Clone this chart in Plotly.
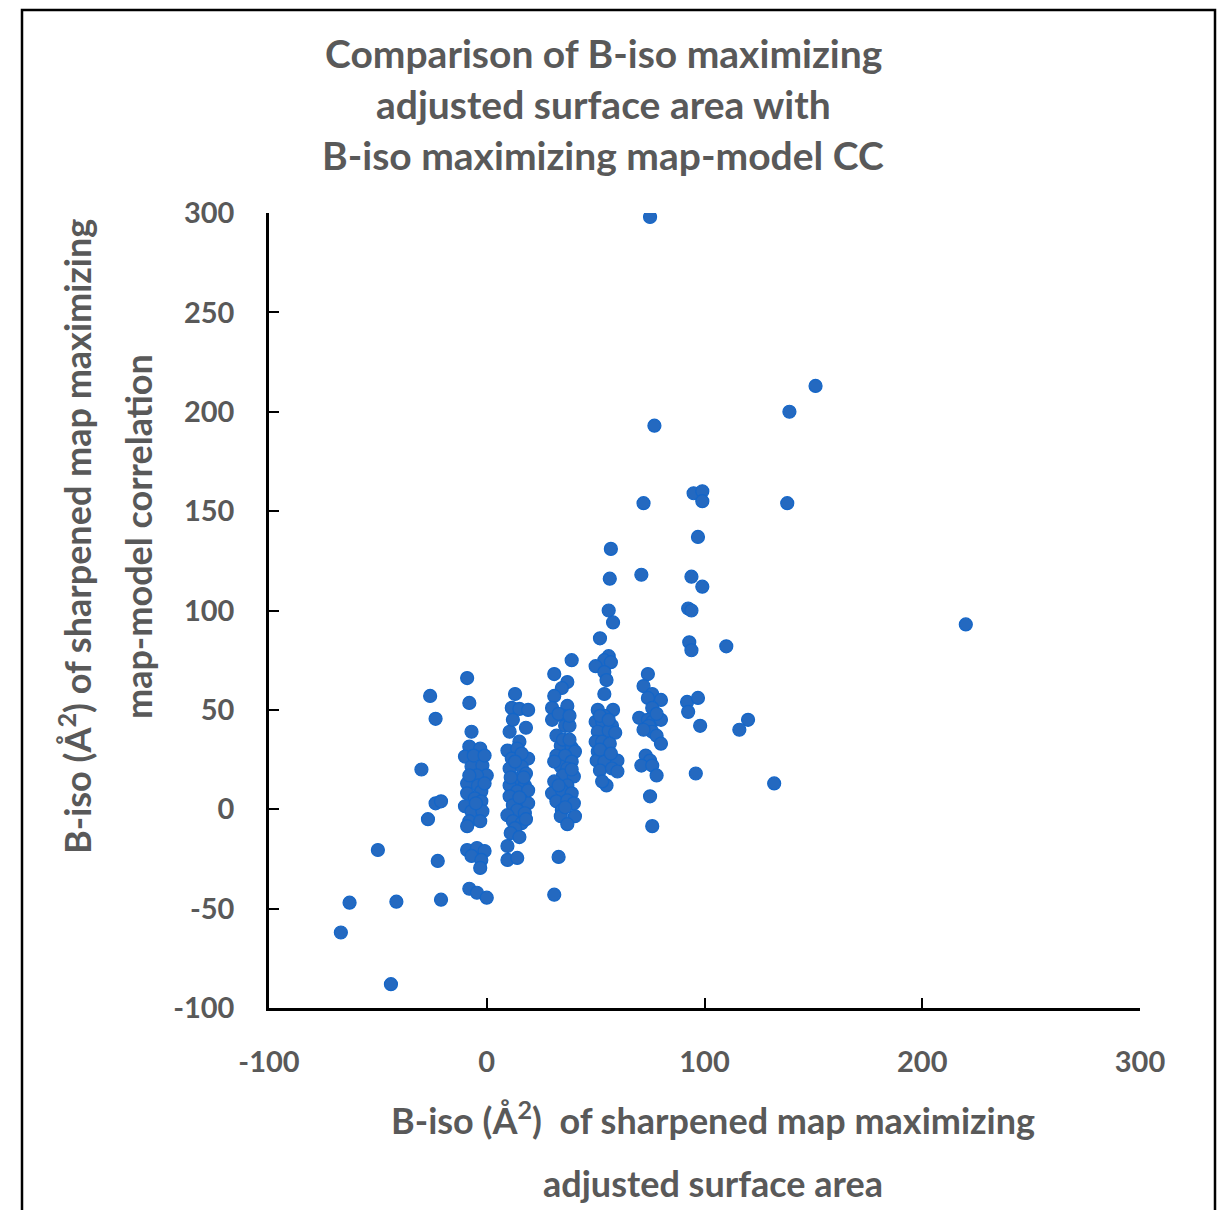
import plotly.graph_objects as go

# ---- data ----
outlier_x = [75, 151, 139, 77, 138, 72, 95, 99, 99, 97, 57, 71, 56.5, 94, 99, 56, 58, 92.5, 94, 220, 93, 94, 110, 52,
             120, 116, 132, 92, 97, 92.5, 98, 96]
outlier_y = [298, 213, 200, 193, 154, 154, 159, 160, 155, 137, 131, 118, 116, 117, 112, 100, 94, 101, 100, 93, 84, 80, 82, 86,
             45, 40, 13, 54, 56, 49, 42, 18]

col75_x = [74, 72, 76, 74, 80, 76, 70, 74, 76, 80, 74.5, 76, 78, 80, 73, 75, 71, 76, 78, 75, 76, 72, 78]
col75_y = [68, 62, 58, 56, 55, 51, 46, 45, 44, 45, 42, 39, 37, 33, 27, 24.5, 22, 22, 17, 6.5, -8.5, 40, 48]

col55_x = [56, 54, 57, 50, 54, 55, 54, 51, 58, 54, 50, 53, 57.5, 51, 56, 59, 50, 53, 56.5, 51, 55, 50.5, 54, 60, 52, 57.5,
           60, 55, 52, 56, 52, 57, 53]
col55_y = [77, 75, 74, 72, 69, 65, 58, 50, 50, 47, 44, 44, 42, 39, 39.5, 38.5, 34, 34, 33, 29, 27, 24.5, 24, 24.5, 19.5,
           20.5, 19, 12, 47, 45, 30, 28, 14]

col35_x = [39, 31, 37, 34.5, 31, 30, 37, 35, 30, 36, 38, 32, 34, 39, 40.5, 32, 36, 39, 34, 37, 35, 40, 31, 37, 30, 34.5, 39,
           32, 37, 40, 34.5, 34, 40.5, 37, 33, 31, 33, 38, 35, 31, 38, 33, 36, 39]
col35_y = [75, 68, 64, 61, 57, 51, 52, 47, 45, 42, 42, 37, 32, 31, 29, 27, 27, 24, 21.5, 20.5, 17, 16.5, 14, 12, 8, 9.5, 8,
           4, 4.5, 3, -0.5, -3.5, -3.5, -7.5, -24, -43, 48, 47, 35, 24, 35, 12, 1, 20]

col15_x = [13, 11.5, 15, 19, 18, 10.5, 15, 9.5, 14, 19, 11.5, 10.5, 16, 18, 13, 17.5, 10.5, 14, 19, 10.5, 16, 12, 19, 14,
           9.5, 17.5, 12, 16, 13, 9.5, 9.5, 14, 12, 16, 13, 17, 11, 15, 18, 11, 15]
col15_y = [58, 51, 50.5, 50, 41, 39, 34, 29.5, 30.5, 25.5, 25.5, 20.5, 21.5, 18, 15.5, 12, 12, 9, 9.5, 6.5, 4.5, 2, 3, -0.5,
           -3, -2, -6, -7, -9.5, -18.5, -25.5, -24.5, 45, 28, 24, 16, 16, 6, -5, -12, -14]

col0_x = [-9, -8, -7, -8, -3, -10, -7, -2, 0, -4.5, -9, -4, -9, -2.5, -5.5, -10, -2.5, -7, -2, -8, -3, -9, -9, -4.5, -1, -7,
          -2.5, -3, -8, -4.5, 0, -6, -1, -5, -8, -1]
col0_y = [66, 53.5, 39, 31.5, 30.5, 26.5, 21.5, 22, 17, 17, 13, 12, 8, 9, 5.5, 1.5, 4, -1, -1, -6, -6, -8.5, -20.5, -19.5,
          -21, -23.5, -25.5, -29.5, -40, -42, -44.5, 27, 27, 3, 17, 13]

left_x = [-26, -23.5, -30, -23.5, -21, -27, -22.5, -21, -50, -63, -41.5, -67, -44]
left_y = [57, 45.5, 20, 3, 4, -5, -26, -45.5, -20.5, -47, -46.5, -62, -88]

x_vals = outlier_x + col75_x + col55_x + col35_x + col15_x + col0_x + left_x
y_vals = outlier_y + col75_y + col55_y + col35_y + col15_y + col0_y + left_y

x_ticks = [-100, 0, 100, 200, 300]
x_tick_labels = ["-100", "0", "100", "200", "300"]
y_ticks = [-100, -50, 0, 50, 100, 150, 200, 250, 300]
y_tick_labels = ["-100", "-50", "0", "50", "100", "150", "200", "250", "300"]

title_lines = ["Comparison of B-iso maximizing", "adjusted surface area with", "B-iso maximizing map-model CC"]
x_title_lines = ["B-iso (Å<sup>2</sup>)  of sharpened map maximizing", "adjusted surface area"]
y_title_lines = ["B-iso (Å<sup>2</sup>) of sharpened map maximizing", "map-model correlation"]

# ---- figure ----
FONT = "Lato"
GRAY = "#595959"
OFF = 8  # page body margin offset

FIG_W, FIG_H = 1228 - 2 * OFF, 1210 - OFF

fig = go.Figure()
fig.add_trace(go.Scatter(
    x=x_vals, y=y_vals, mode="markers",
    marker=dict(size=13, color="#2469C0", line=dict(width=1.2, color="#1466C8")),
    showlegend=False, hoverinfo="x+y"))

# plot area in screen pixels: x 269..1140, y 213..1008
L, R, T, B = 269 - OFF, 1140 - OFF, 213 - OFF, 1008 - OFF
W, H = R - L, B - T


def px(xp):
    return (xp - OFF - L) / W


def py(yp):
    return (B - (yp - OFF)) / H


axis_common = dict(showgrid=False, zeroline=False, showline=True, linecolor="black", linewidth=2.5,
                   ticks="inside", ticklen=10, tickwidth=2, tickcolor="black",
                   tickfont=dict(family=FONT, size=29, color=GRAY, weight="bold"))

fig.update_xaxes(range=[-100, 300], tickvals=x_ticks, ticktext=x_tick_labels, ticklabelstandoff=26, **axis_common)
fig.update_yaxes(range=[-100, 300], tickvals=y_ticks, ticktext=y_tick_labels, ticklabelstandoff=26, **axis_common)

annotations = []
for text, yp in zip(title_lines, [53, 104, 155]):
    annotations.append(dict(text=text, x=px(603), y=py(yp), xref="paper", yref="paper",
                            xanchor="center", yanchor="middle", showarrow=False,
                            font=dict(family=FONT, size=39, color=GRAY, weight="bold")))
for text, yp in zip(x_title_lines, [1118, 1183]):
    annotations.append(dict(text=text, x=px(713), y=py(yp), xref="paper", yref="paper",
                            xanchor="center", yanchor="middle", showarrow=False,
                            font=dict(family=FONT, size=36, color=GRAY, weight="bold")))
for text, xp in zip(y_title_lines, [75, 138]):
    annotations.append(dict(text=text, x=px(xp), y=py(537), xref="paper", yref="paper",
                            xanchor="center", yanchor="middle", showarrow=False, textangle=-90,
                            font=dict(family=FONT, size=36, color=GRAY, weight="bold")))

# outer frame (left, top, right edges)
frame = dict(type="path", xref="paper", yref="paper",
             path=f"M {px(22)},{py(1230)} L {px(22)},{py(10)} L {px(1215)},{py(10)} L {px(1215)},{py(1230)}",
             line=dict(color="black", width=2.5))

fig.update_layout(
    width=FIG_W, height=FIG_H,
    margin=dict(l=L, r=FIG_W - R, t=T, b=FIG_H - B, pad=0),
    paper_bgcolor="white", plot_bgcolor="white",
    annotations=annotations, shapes=[frame],
)

fig.write_html("out.html")
